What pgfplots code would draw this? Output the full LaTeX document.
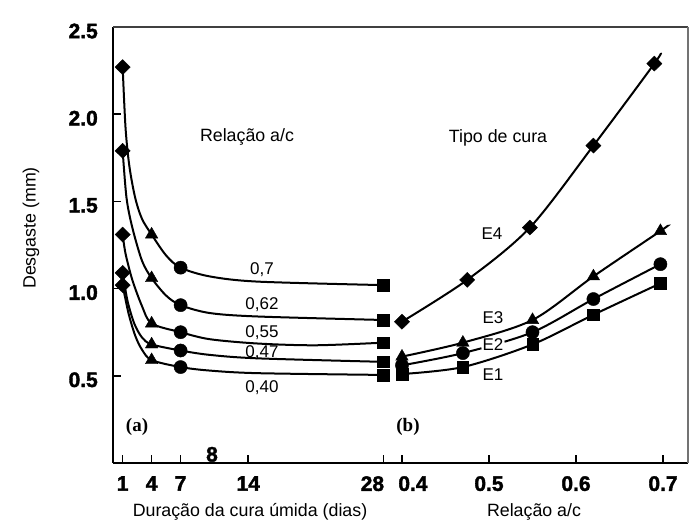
\documentclass[border=0pt]{standalone}
\usepackage{pgfplots}
\pgfplotsset{compat=1.18}
\usepackage{fontspec}
\setmainfont{Liberation Sans}
\newfontfamily\serifb{Liberation Serif}
\newfontfamily\heavy[FakeBold=1.8]{Liberation Sans Bold}
\newcommand{\tickf}{\fontsize{21}{21}\selectfont\heavy}
\newcommand{\labf}{\fontsize{17.8}{17.8}\selectfont}
\newcommand{\valf}{\fontsize{17}{17}\selectfont}

\pgfplotsset{
 common/.style={scale only axis, height=436pt, ymin=0, ymax=2.5, clip=false,
  axis x line*=bottom, tick align=inside, major tick length=8pt,
  every tick/.style={black, line width=1.5pt},
  axis line style={line width=2.5pt, black},
  xticklabel style={font=\tickf, inner sep=0pt, anchor=north, yshift=-13pt},
 },
 crv/.style={black, line width=2pt, smooth, tension=0.5, no markers},
 dia/.style={only marks, mark=diamond*, mark size=7.5pt, mark options={fill=black, xscale=1.35}},
 sq/.style={only marks, mark=square*, mark size=5.8pt, mark options={fill=black}},
 ci/.style={only marks, mark=*, mark size=6.6pt, mark options={fill=black}},
 tri/.style={only marks, mark=triangle*, mark size=7.2pt, mark options={fill=black}},
}

\begin{document}
\begin{tikzpicture}
\useasboundingbox (0,0) rectangle (692pt,521pt);

% ---------- (a) curing duration ----------
\begin{axis}[common, at={(113pt,58pt)}, anchor=south west, width=282pt,
  xmin=0, xmax=29.2, axis y line*=left,
  xtick={1,4,7,14,28},
  xticklabels={1,4,7,14,{\makebox[0pt]{28\hspace*{22pt}}}},
  ytick={0.5,1,1.5,2,2.5}, yticklabels={0.5,1.0,1.5,2.0,2.5},
  yticklabel style={font=\tickf, inner sep=0pt, anchor=east, xshift=-15pt, yshift=-4pt}]
% w/c 0.70
\addplot[crv] coordinates {(1,2.27) (1.3,1.92) (1.7,1.70) (2.3,1.52) (3,1.40) (4,1.31) (5.5,1.19) (7,1.12) (10,1.07) (15,1.04) (28,1.02)};
% w/c 0.62
\addplot[crv] coordinates {(1,1.79) (1.4,1.52) (2,1.35) (3,1.16) (4,1.06) (5.5,0.96) (7,0.905) (10,0.86) (15,0.84) (28,0.82)};
% w/c 0.55
\addplot[crv] coordinates {(1,1.31) (1.3,1.20) (2,1.05) (3,0.90) (4,0.80) (7,0.75) (10,0.71) (15,0.685) (21,0.675) (28,0.69)};
% w/c 0.47
\addplot[crv] coordinates {(1,1.09) (1.5,0.93) (2.2,0.80) (3,0.72) (4,0.68) (7,0.645) (10,0.62) (15,0.60) (28,0.58)};
% w/c 0.40
\addplot[crv] coordinates {(1,1.02) (1.6,0.86) (2.3,0.73) (3,0.65) (4,0.59) (7,0.55) (10,0.53) (15,0.515) (28,0.505)};
% markers
\addplot[dia] coordinates {(1,2.27) (1,1.79) (1,1.31) (1,1.09) (1,1.02)};
\addplot[tri] coordinates {(4,1.31) (4,1.06) (4,0.80) (4,0.68) (4,0.59)};
\addplot[ci] coordinates {(7,1.12) (7,0.905) (7,0.75) (7,0.645) (7,0.55)};
\addplot[sq] coordinates {(28,1.02) (28,0.82) (28,0.69) (28,0.58) (28,0.505)};
\end{axis}

% ---------- (b) w/c ratio ----------
\begin{axis}[common, at={(395pt,58pt)}, anchor=south west, width=293pt,
  xmin=0.392, xmax=0.7287, axis y line=none,
  xtick={0.4,0.5,0.6,0.7},
  xticklabels={{\makebox[0pt]{\hspace*{22pt}0.4}},0.5,0.6,0.7}]
% E4
\addplot[crv] coordinates {(0.40,0.81) (0.475,1.05) (0.547,1.35) (0.62,1.82) (0.69,2.29) (0.697,2.35)};
% E3
\addplot[crv] coordinates {(0.40,0.61) (0.47,0.69) (0.55,0.82) (0.62,1.07) (0.697,1.33) (0.705,1.36)};
% E2
\addplot[crv] coordinates {(0.40,0.56) (0.47,0.63) (0.55,0.75) (0.62,0.94) (0.697,1.14)};
% E1
\addplot[crv] coordinates {(0.40,0.51) (0.47,0.55) (0.55,0.68) (0.62,0.85) (0.697,1.03)};
\addplot[dia] coordinates {(0.40,0.81) (0.475,1.05) (0.547,1.35) (0.62,1.82) (0.69,2.29)};
\addplot[tri] coordinates {(0.40,0.61) (0.47,0.69) (0.55,0.82) (0.62,1.07) (0.697,1.33)};
\addplot[ci] coordinates {(0.40,0.56) (0.47,0.63) (0.55,0.75) (0.62,0.94) (0.697,1.14)};
\addplot[sq] coordinates {(0.40,0.51) (0.47,0.55) (0.55,0.68) (0.62,0.85) (0.697,1.03)};
\end{axis}

% frame (top and right)
\draw[line width=1.6pt, black!75] (113pt,494pt) -- (688pt,494pt);
\draw[line width=1.2pt, black!55] (688pt,494pt) -- (688pt,58pt);

% texts
\node[font=\labf] at (247pt,384pt) {Relação a/c};
\node[font=\labf] at (498pt,383pt) {Tipo de cura};
\node[font=\valf] at (262pt,251pt) {0,7};
\node[font=\valf] at (262pt,216pt) {0,62};
\node[font=\valf] at (262pt,188pt) {0,55};
\node[font=\valf] at (262pt,168pt) {0,47};
\node[font=\valf] at (262pt,133pt) {0,40};
\node[font=\valf] at (492pt,287pt) {E4};
\node[font=\valf] at (493pt,203pt) {E3};
\node[font=\valf, fill=white, inner sep=1.5pt, rounded corners=6pt] at (493pt,176pt) {E2};
\node[font=\valf] at (493pt,146pt) {E1};
\node[font=\serifb\fontsize{19}{19}\selectfont\bfseries] at (137pt,94pt) {(a)};
\node[font=\serifb\fontsize{19}{19}\selectfont\bfseries] at (408pt,94pt) {(b)};
\node[font=\tickf, inner sep=0pt, anchor=south] at (212pt,59pt) {8};
\node[font=\labf, rotate=90] at (31pt,293pt) {Desgaste (mm)};
\node[font=\labf] at (250pt,9pt) {Duração da cura úmida (dias)};
\node[font=\labf] at (534pt,9pt) {Relação a/c};
\end{tikzpicture}
\end{document}
